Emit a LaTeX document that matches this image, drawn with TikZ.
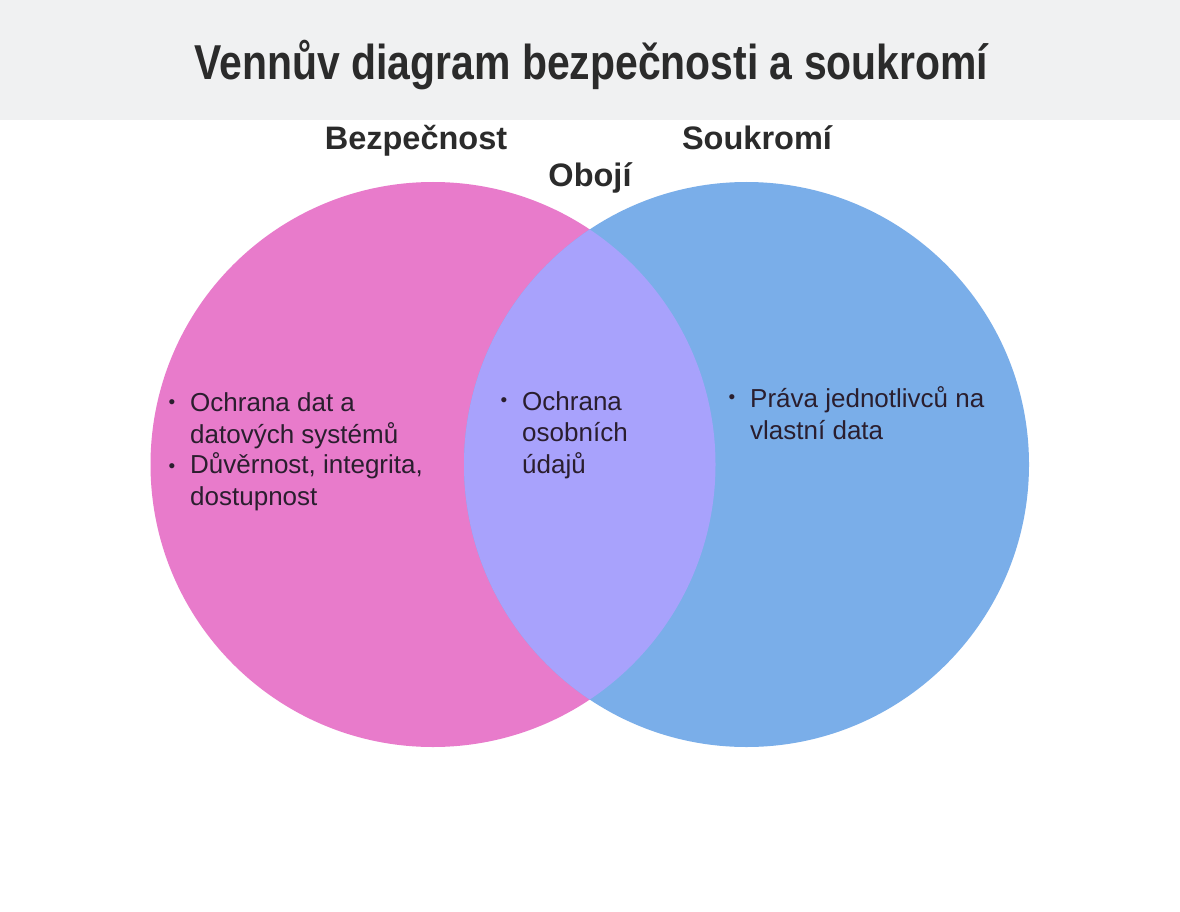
\documentclass[tikz,border=0pt]{standalone}
\usepackage{fontspec}
\usepackage{graphicx}
\setmainfont{Liberation Sans}
\usetikzlibrary{positioning}
\definecolor{bezpink}{HTML}{E87BCB}
\definecolor{soublue}{HTML}{7AAEE9}
\definecolor{obomix}{HTML}{A8A2FC}
\definecolor{titlegray}{HTML}{F0F1F2}
\definecolor{inkdark}{HTML}{2B2B2B}
\definecolor{inktext}{HTML}{2A1E2E}
\tikzset{
  heading/.style={font=\fontsize{32.5}{36}\selectfont\bfseries, text=inkdark, inner sep=0pt, anchor=base},
  itemtext/.style={font=\fontsize{26}{31.5}\selectfont, text=inktext, align=left, inner sep=0pt, anchor=base west},
  itemdot/.style={font=\fontsize{19}{20}\selectfont, text=inktext, inner sep=0pt, anchor=base}
}
\begin{document}
\begin{tikzpicture}[x=1pt, y=-1pt]
  \useasboundingbox (0, 0) rectangle (1180, 912);
  \fill[white] (0, 0) rectangle (1180, 912);
  \fill[titlegray] (0, 0) rectangle (1180, 120);
  \node[heading, font=\fontsize{49}{56}\selectfont\bfseries] (title) at (591.5, 80) {\scalebox{0.835}[1]{Vennův diagram bezpečnosti a soukromí}};

  % the two sets
  \coordinate (bezC) at (433, 464.5);
  \coordinate (souC) at (746.5, 464.5);
  \fill[bezpink] (bezC) circle (282.5);
  \fill[soublue] (souC) circle (282.5);
  \begin{scope}
    \clip (bezC) circle (282.5);
    \fill[obomix] (souC) circle (282.5);
  \end{scope}

  \node[heading] (bezLabel) at (416, 150) {Bezpečnost};
  \node[heading] (souLabel) at (757, 150) {Soukromí};
  \node[heading] (oboLabel) at (590, 187) {Obojí};

  % bullet lists (base = last line)
  \node[itemdot] (bezDotA) at (172, 408) {•};
  \node[itemtext] (bezItemA) at (190, 443) {Ochrana dat a\\datových systémů};
  \node[itemdot] (bezDotB) at (172, 472) {•};
  \node[itemtext] (bezItemB) at (190, 505) {Důvěrnost, integrita,\\dostupnost};
  \node[itemdot] (oboDot) at (504, 406) {•};
  \node[itemtext] (oboItem) at (522, 473) {Ochrana\\osobních\\údajů};
  \node[itemdot] (souDot) at (732, 403) {•};
  \node[itemtext] (souItem) at (750, 439) {Práva jednotlivců na\\vlastní data};
\end{tikzpicture}
\end{document}
